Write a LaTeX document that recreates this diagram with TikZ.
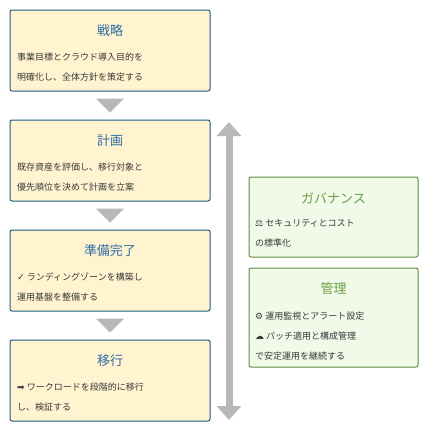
\documentclass[tikz,border=0pt]{standalone}
\usepackage{fontspec}
\setmainfont{Noto Sans CJK JP}
\newfontfamily\symfont{DejaVu Sans}
\usetikzlibrary{arrows.meta,calc,positioning}
\definecolor{stepfill}{HTML}{FFF3D0}
\definecolor{stepline}{HTML}{1F5A85}
\definecolor{steptitle}{HTML}{2E6EA6}
\definecolor{opsfill}{HTML}{F1F9E9}
\definecolor{opsline}{HTML}{5F8F3E}
\definecolor{opstitle}{HTML}{6A9F48}
\definecolor{flowgray}{HTML}{B8B8B8}
\definecolor{bodytext}{HTML}{3A3A3A}

\begin{document}
\begin{tikzpicture}[x=1pt,y=-1pt,>={Triangle[width=24pt,length=14pt]},
  stepbox/.style={draw=stepline,fill=stepfill,line width=1pt,rounded corners=2pt,
    minimum width=200pt,minimum height=81pt,inner sep=0pt,outer sep=0pt},
  opsbox/.style={draw=opsline,fill=opsfill,line width=1pt,rounded corners=2pt,
    minimum width=169pt,inner sep=0pt,outer sep=0pt},
  boxtitle/.style={font=\fontsize{13}{15}\selectfont,inner sep=0pt},
  boxbody/.style={font=\fontsize{9}{20}\selectfont,text=bodytext,align=left,
    anchor=north west,inner sep=0pt}]
  \useasboundingbox (0,0) rectangle (429,432);
  % migration steps
  \node[stepbox] (strategy) at (110,50.5) {};
  \node[stepbox,below=29pt of strategy] (plan) {};
  \node[stepbox,below=29pt of plan] (ready) {};
  \node[stepbox,below=29pt of ready] (migrate) {};
  \node[boxtitle,text=steptitle] (strategy-t) at ($(strategy.north)+(0,21)$) {戦略};
  \node[boxtitle,text=steptitle] (plan-t) at ($(plan.north)+(0,21)$) {計画};
  \node[boxtitle,text=steptitle] (ready-t) at ($(ready.north)+(0,21)$) {準備完了};
  \node[boxtitle,text=steptitle] (migrate-t) at ($(migrate.north)+(0,21)$) {移行};
  \node[boxbody] (strategy-b) at ($(strategy.north west)+(7,43)$)
    {事業目標とクラウド導入目的を\\明確化し、全体方針を策定する};
  \node[boxbody] (plan-b) at ($(plan.north west)+(7,43)$)
    {既存資産を評価し、移行対象と\\優先順位を決めて計画を立案};
  \node[boxbody] (ready-b) at ($(ready.north west)+(7,43)$)
    {{\symfont ✓} ランディングゾーンを構築し\\運用基盤を整備する};
  \node[boxbody] (migrate-b) at ($(migrate.north west)+(7,43)$)
    {{\symfont ➡} ワークロードを段階的に移行\\し、検証する};
  \foreach \a/\b in {strategy/plan,plan/ready,ready/migrate}
    \fill[flowgray] ($(\a.south)!0.5!(\b.north)+(-14,-7)$) -- ++(28,0)
      -- ($(\a.south)!0.5!(\b.north)+(0,7)$) -- cycle;
  % ongoing work
  \coordinate (life-top) at (229,122);
  \coordinate (life-bot) at (229,420);
  \draw[flowgray,line width=7pt,<->] (life-top) -- (life-bot);
  \node[opsbox,minimum height=80pt] (governance) at (333.5,217) {};
  \node[opsbox,minimum height=99pt] (manage) at (333.5,317.5) {};
  \node[boxtitle,text=opstitle] (governance-t) at ($(governance.north)+(0,21)$) {ガバナンス};
  \node[boxtitle,text=opstitle] (manage-t) at ($(manage.north)+(0,21)$) {管理};
  \node[boxbody] (governance-b) at ($(governance.north west)+(6,42)$)
    {{\symfont ⚖} セキュリティとコスト\\の標準化};
  \node[boxbody] (manage-b) at ($(manage.north west)+(6,44)$)
    {{\symfont ⚙} 運用監視とアラート設定\\{\symfont ☁} パッチ適用と構成管理\\で安定運用を継続する};
\end{tikzpicture}
\end{document}
